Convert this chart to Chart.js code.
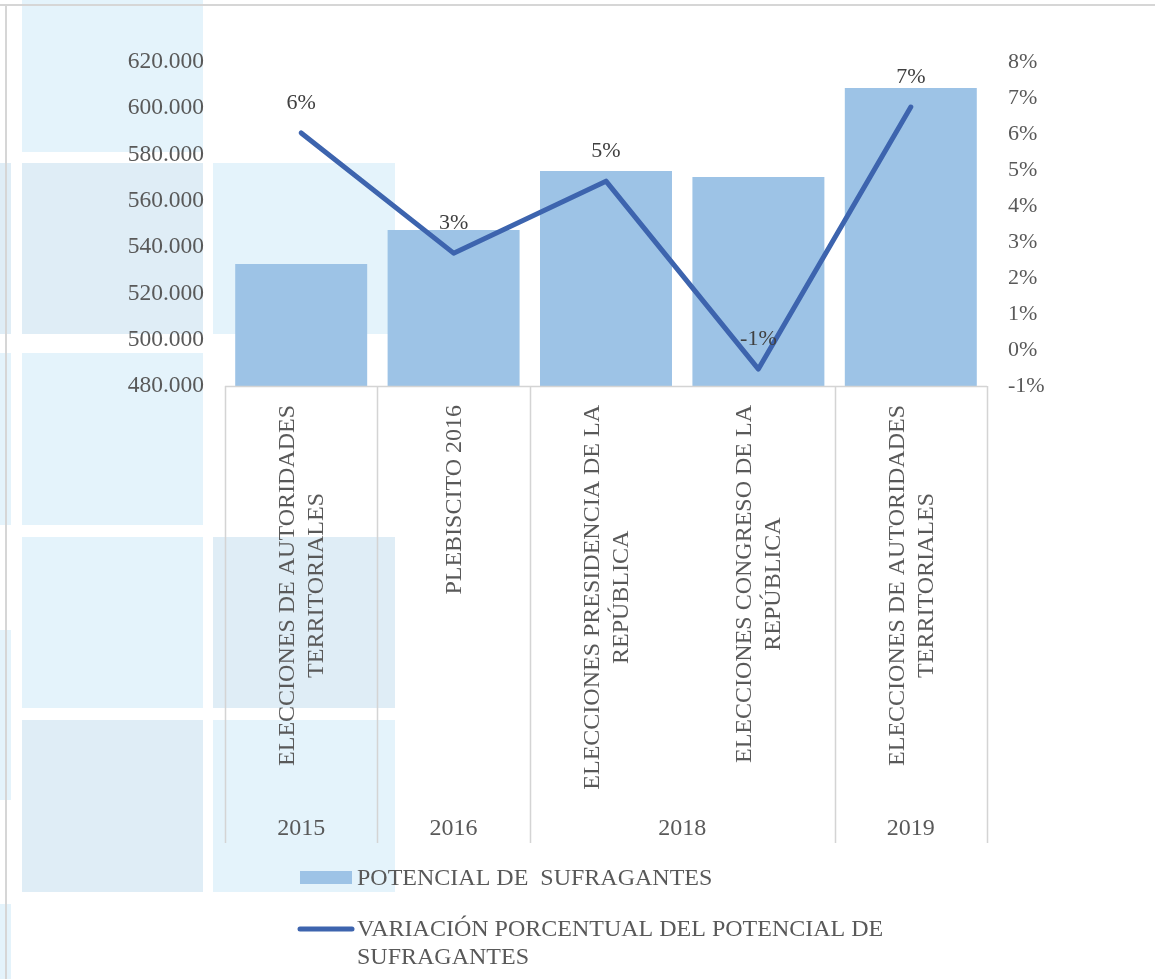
<!DOCTYPE html>
<html>
<head>
<meta charset="utf-8">
<script src="https://cdn.jsdelivr.net/npm/chart.js@4"></script>
<style>
  html, body { margin: 0; padding: 0; background: #fff; }
  #wrap { position: relative; width: 1155px; height: 979px; overflow: hidden; }
  .sq { position: absolute; }
  .lt { background: #e4f3fb; }
  .dk { background: #dfedf6; }
  #frameTop { position: absolute; left: 0; top: 4px; width: 1155px; height: 2px; background: #d6d6d6; }
  #frameLeft { position: absolute; left: 5px; top: 4px; width: 2px; height: 975px; background: #d6d6d6; }
  canvas { position: absolute; left: 0; top: 0; }
</style>
</head>
<body>
<div id="wrap">
  <!-- decorative page background -->
  <div class="sq dk" style="left:0;top:163px;width:11px;height:171px"></div>
  <div class="sq lt" style="left:0;top:353px;width:11px;height:172px"></div>
  <div class="sq lt" style="left:0;top:630px;width:11px;height:170px"></div>
  <div class="sq lt" style="left:0;top:904px;width:11px;height:75px"></div>
  <div class="sq lt" style="left:22px;top:0;width:181px;height:152px"></div>
  <div class="sq dk" style="left:22px;top:163px;width:181px;height:171px"></div>
  <div class="sq lt" style="left:22px;top:353px;width:181px;height:172px"></div>
  <div class="sq lt" style="left:22px;top:537px;width:181px;height:171px"></div>
  <div class="sq dk" style="left:22px;top:720px;width:181px;height:172px"></div>
  <div class="sq lt" style="left:213px;top:163px;width:182px;height:171px"></div>
  <div class="sq dk" style="left:213px;top:537px;width:182px;height:171px"></div>
  <div class="sq lt" style="left:213px;top:720px;width:182px;height:172px"></div>
  <div id="frameTop"></div>
  <div id="frameLeft"></div>
  <canvas id="chart" width="1155" height="979"></canvas>
</div>
<script>
// Data
const categories = [
    ['ELECCIONES DE AUTORIDADES', 'TERRITORIALES'],
    ['PLEBISCITO 2016'],
    ['ELECCIONES PRESIDENCIA DE LA', 'REPÚBLICA'],
    ['ELECCIONES CONGRESO DE LA', 'REPÚBLICA'],
    ['ELECCIONES DE AUTORIDADES', 'TERRITORIALES']
];
const years = ['2015', '2016', '2018', '2018', '2019'];
const potencial = [532700, 547400, 572900, 570300, 608800];
const variacion = [6.03, 2.69, 4.69, -0.53, 6.75];
const leftTicks = [480000, 500000, 520000, 540000, 560000, 580000, 600000, 620000];
const rightTicks = [-1, 0, 1, 2, 3, 4, 5, 6, 7, 8];
const barLabel = 'POTENCIAL DE  SUFRAGANTES';
const lineLabel = 'VARIACIÓN PORCENTUAL DEL POTENCIAL DE SUFRAGANTES';

const SERIF = "'Liberation Serif', 'Times New Roman', serif";
const BAR_COLOR = '#9dc3e6';
const LINE_COLOR = '#3d64ae';
const TEXT = '#595959';
const GRID = '#d4d4d4';

function formatMiles(v) {
    return String(v).replace(/\B(?=(\d{3})+(?!\d))/g, '.');
}

// draws the two-level category axis, data labels and legend
const extras = {
    id: 'extras',
    afterDatasetsDraw(chart) {
        const ctx = chart.ctx;
        const x = chart.scales.x;
        const area = chart.chartArea;
        const bottom = x.bottom;
        const half = (x.getPixelForValue(1) - x.getPixelForValue(0)) / 2;

        ctx.save();
        // axis frame
        ctx.strokeStyle = GRID;
        ctx.lineWidth = 1.5;
        ctx.beginPath();
        ctx.moveTo(area.left, area.bottom + 0.5);
        ctx.lineTo(area.right, area.bottom + 0.5);
        const bounds = [area.left];
        for (let i = 1; i < years.length; i++) {
            if (years[i] !== years[i - 1]) bounds.push(x.getPixelForValue(i) - half);
        }
        bounds.push(area.right);
        bounds.forEach(b => {
            ctx.moveTo(Math.round(b) + 0.5, area.bottom);
            ctx.lineTo(Math.round(b) + 0.5, bottom);
        });
        ctx.stroke();

        // rotated category labels
        ctx.font = '24px ' + SERIF;
        ctx.fillStyle = TEXT;
        ctx.textAlign = 'center';
        ctx.textBaseline = 'middle';
        const lineH = 29;
        categories.forEach((lines, i) => {
            const px = x.getPixelForValue(i);
            const maxW = Math.max(...lines.map(l => ctx.measureText(l).width));
            ctx.save();
            ctx.translate(px, area.bottom + 19);
            ctx.rotate(-Math.PI / 2);
            lines.forEach((l, j) => {
                ctx.fillText(l, -maxW / 2, (j - (lines.length - 1) / 2) * lineH + 1);
            });
            ctx.restore();
        });

        // year labels
        let start = 0;
        for (let i = 1; i <= years.length; i++) {
            if (i === years.length || years[i] !== years[start]) {
                const cx = (x.getPixelForValue(start) + x.getPixelForValue(i - 1)) / 2;
                ctx.fillText(years[start], cx, bottom - 14);
                start = i;
            }
        }

        // data labels on the line
        ctx.font = '22px ' + SERIF;
        ctx.fillStyle = '#404040';
        const meta = chart.getDatasetMeta(1);
        meta.data.forEach((pt, i) => {
            ctx.fillText(Math.round(variacion[i]) + '%', pt.x, pt.y - 30);
        });

        // legend
        ctx.font = '24px ' + SERIF;
        ctx.textAlign = 'left';
        ctx.fillStyle = BAR_COLOR;
        ctx.fillRect(300, 871, 52, 13);
        ctx.fillStyle = TEXT;
        ctx.fillText(barLabel, 357, 879);

        ctx.strokeStyle = LINE_COLOR;
        ctx.lineWidth = 5;
        ctx.lineCap = 'round';
        ctx.beginPath();
        ctx.moveTo(300, 929);
        ctx.lineTo(352, 929);
        ctx.stroke();
        const words = lineLabel.split(' ');
        let line = '', y = 930;
        words.forEach(w => {
            const test = line ? line + ' ' + w : w;
            if (ctx.measureText(test).width > 560 && line) {
                ctx.fillText(line, 357, y);
                line = w;
                y += 28;
            } else {
                line = test;
            }
        });
        ctx.fillText(line, 357, y);
        ctx.restore();
    }
};

const ctx = document.getElementById('chart').getContext('2d');
new Chart(ctx, {
    data: {
        labels: categories,
        datasets: [{
            type: 'bar',
            label: barLabel,
            data: potencial,
            backgroundColor: BAR_COLOR,
            yAxisID: 'y',
            categoryPercentage: 1,
            barPercentage: 0.866,
            order: 2
        }, {
            type: 'line',
            label: lineLabel,
            data: variacion,
            borderColor: LINE_COLOR,
            borderWidth: 5,
            borderCapStyle: 'round',
            borderJoinStyle: 'round',
            pointRadius: 0,
            tension: 0,
            yAxisID: 'y1',
            order: 1
        }]
    },
    options: {
        responsive: false,
        animation: false,
        layout: { padding: { top: 62, bottom: 136, left: 0, right: 0 } },
        plugins: { legend: { display: false }, tooltip: { enabled: false } },
        scales: {
            x: {
                offset: true,
                grid: { display: false, drawTicks: false },
                border: { display: false },
                ticks: { display: false },
                afterFit: (s) => { s.height = 457; }
            },
            y: {
                position: 'left',
                min: leftTicks[0],
                max: leftTicks[leftTicks.length - 1],
                afterBuildTicks: (s) => { s.ticks = leftTicks.map(v => ({ value: v })); },
                grid: { display: false, drawTicks: false },
                border: { display: false },
                ticks: {
                    padding: 21,
                    color: TEXT,
                    font: { family: SERIF, size: 23.5 },
                    callback: (v) => formatMiles(v)
                },
                afterFit: (s) => { s.width = 225; }
            },
            y1: {
                position: 'right',
                min: rightTicks[0],
                max: rightTicks[rightTicks.length - 1],
                afterBuildTicks: (s) => { s.ticks = rightTicks.map(v => ({ value: v })); },
                grid: { display: false, drawTicks: false },
                border: { display: false },
                ticks: {
                    padding: 21,
                    color: TEXT,
                    font: { family: SERIF, size: 22 },
                    callback: (v) => v + '%'
                },
                afterFit: (s) => { s.width = 168; }
            }
        }
    },
    plugins: [extras]
});
</script>
</body>
</html>
